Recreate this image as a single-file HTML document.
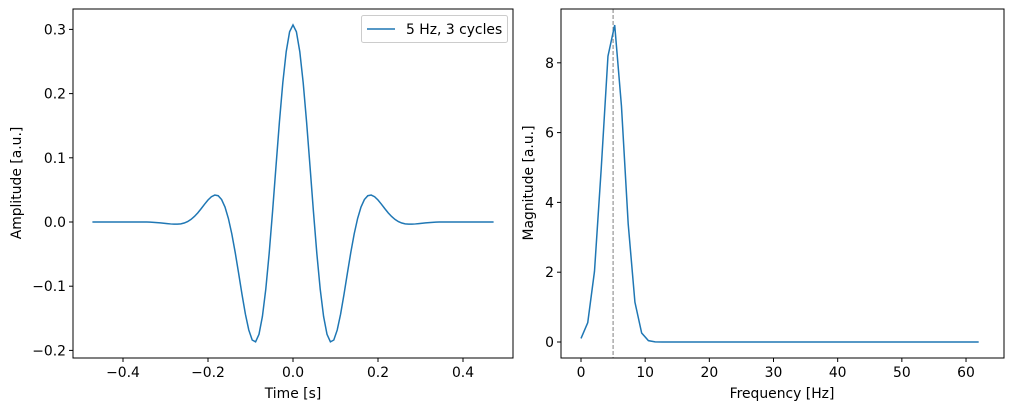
<!DOCTYPE html>
<html><head><style>
body{margin:0;background:#fff;}
svg text{font-family:"DejaVu Sans","Liberation Sans",sans-serif;font-size:13.9px;fill:#000;}
</style></head><body>
<svg id="s" width="1011" height="411" xmlns="http://www.w3.org/2000/svg">
<rect width="1011" height="411" fill="#fff"/>
<g id="g"></g>
<rect x="73" y="9" width="440" height="349" fill="none" stroke="#000" stroke-width="1"/>
<rect x="561" y="9" width="443" height="349" fill="none" stroke="#000" stroke-width="1"/>
<g stroke="#666" stroke-width="1" fill="none"><rect x="361.5" y="15.5" width="146" height="27" rx="2" stroke="#ccc"/></g>
<line x1="367" y1="29" x2="395" y2="29" stroke="#1f77b4" stroke-width="1.5"/>
<text x="406" y="34">5 Hz, 3 cycles</text>
<text x="293" y="398" text-anchor="middle">Time [s]</text>
<text x="782" y="398" text-anchor="middle">Frequency [Hz]</text>
<text transform="translate(21,183) rotate(-90)" text-anchor="middle">Amplitude [a.u.]</text>
<text transform="translate(533,183) rotate(-90)" text-anchor="middle">Magnitude [a.u.]</text>
</svg>
<script>
var g=document.getElementById('g'),h='';
function ln(a,b,c,d,st){h+='<line x1="'+a+'" y1="'+b+'" x2="'+c+'" y2="'+d+'" stroke="#000" '+(st||'')+'/>';}
function tx(x,y,t,an){h+='<text x="'+x+'" y="'+y+'" text-anchor="'+an+'">'+t+'</text>';}
var lx=function(t){return 293+t*425;}, ly=function(v){return 222-v*642;};
[-0.4,-0.2,0,0.2,0.4].forEach(function(t){var x=lx(t);ln(x,358,x,362);tx(x,377,(t<0?'\u2212':'')+Math.abs(t).toFixed(1),'middle');});
[-0.2,-0.1,0,0.1,0.2,0.3].forEach(function(v){var y=ly(v);ln(69,y,73,y);tx(66,y+5,(v<0?'\u2212':'')+Math.abs(v).toFixed(1),'end');});
var rx=function(f){return 581+f*6.417;}, ry=function(m){return 342-m*34.9;};
[0,10,20,30,40,50,60].forEach(function(f){var x=rx(f);ln(x,358,x,362);tx(x,377,f,'middle');});
[0,2,4,6,8].forEach(function(m){var y=ry(m);ln(557,y,561,y);tx(554,y+5,m,'end');});
var fs=125,n=119,sig=3/(2*Math.PI*5),A=0.307,re=[],im=[],p='';
for(var i=0;i<n;i++){var t=(i-59)/fs,e=A*Math.exp(-t*t/(2*sig*sig));re.push(e*Math.cos(2*Math.PI*5*t));im.push(e*Math.sin(2*Math.PI*5*t));p+=(i?'L':'M')+lx(t).toFixed(2)+','+ly(re[i]).toFixed(2);}
h+='<path d="'+p+'" fill="none" stroke="#1f77b4" stroke-width="1.5"/>';
p='';
for(var k=0;k<60;k++){var sr=0,si=0;for(var i=0;i<n;i++){var a=-2*Math.PI*k*i/n,c=Math.cos(a),s=Math.sin(a);sr+=re[i]*c-im[i]*s;si+=re[i]*s+im[i]*c;}
var m=Math.sqrt(sr*sr+si*si),f=k*fs/n;p+=(k?'L':'M')+rx(f).toFixed(2)+','+ry(m).toFixed(2);}
h+='<line x1="'+rx(5)+'" y1="9" x2="'+rx(5)+'" y2="358" stroke="#808080" stroke-dasharray="4,2" stroke-width="1"/>';
h+='<path d="'+p+'" fill="none" stroke="#1f77b4" stroke-width="1.5"/>';
g.innerHTML=h;
</script>
</body></html>
